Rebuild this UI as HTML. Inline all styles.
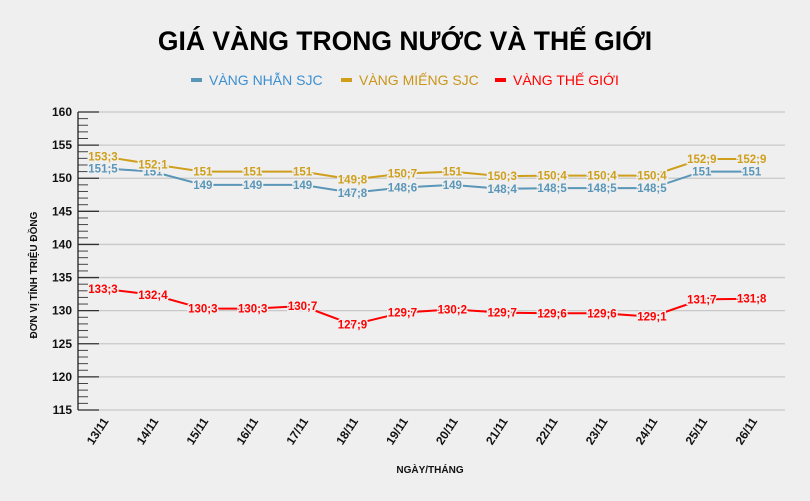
<!DOCTYPE html>
<html><head><meta charset="utf-8"><style>
html,body{margin:0;padding:0;background:#efefef;}
svg{display:block;font-family:"Liberation Sans",sans-serif;}
</style></head><body>
<svg width="810" height="501" viewBox="0 0 810 501" xmlns="http://www.w3.org/2000/svg">
<rect width="810" height="501" fill="#efefef"/>
<text x="405" y="50" text-anchor="middle" font-size="26.5" font-weight="bold" fill="#000">GIÁ VÀNG TRONG NƯỚC VÀ THẾ GIỚI</text>
<g font-size="14">
<rect x="191" y="78" width="11" height="4" fill="#5a96b8"/><text x="209" y="85" fill="#3d8fd0">VÀNG NHẪN SJC</text>
<rect x="341" y="78" width="11" height="4" fill="#cf9f1c"/><text x="359" y="85" fill="#c9951a">VÀNG MIẾNG SJC</text>
<rect x="495" y="78" width="11" height="4" fill="#ff0000"/><text x="513" y="85" fill="#ff0000">VÀNG THẾ GIỚI</text>
</g>
<g id="grid"></g>
<g id="series"></g>
<text transform="translate(37,275) rotate(-90)" text-anchor="middle" font-size="10" font-weight="bold" fill="#111">ĐƠN VỊ TÍNH TRIỆU ĐỒNG</text>
<text x="430" y="473" text-anchor="middle" font-size="10" font-weight="bold" fill="#111">NGÀY/THÁNG</text>
<script>
var NS="http://www.w3.org/2000/svg";
function Y(v){return 112+(160-v)*6.622;}
function X(i){return 103+49.9*i;}
function el(t,a,p,txt){var e=document.createElementNS(NS,t);for(var k in a)e.setAttribute(k,a[k]);if(txt!==undefined)e.textContent=txt;p.appendChild(e);return e;}
var g=document.getElementById('grid');
for(var v=115;v<=160;v++){
 var y=Y(v);
 if(v%5==0){
  el('line',{x1:78,x2:785,y1:y,y2:y,stroke:'#c8c8c8','stroke-width':1.3},g);
  el('line',{x1:78,x2:99,y1:y,y2:y,stroke:'#333','stroke-width':1.3},g);
  el('text',{x:72,y:y+4,'text-anchor':'end','font-size':12,'font-weight':'bold',fill:'#111'},g,v);
 } else el('line',{x1:78,x2:88,y1:y,y2:y,stroke:'#444','stroke-width':1},g);
}
el('line',{x1:78,x2:78,y1:Y(160),y2:Y(115),stroke:'#222','stroke-width':1.3},g);
var days=['13/11','14/11','15/11','16/11','17/11','18/11','19/11','20/11','21/11','22/11','23/11','24/11','25/11','26/11'];
days.forEach(function(d,i){el('text',{transform:'translate('+(X(i)+6)+',421) rotate(-57)','text-anchor':'end','font-size':12,'font-weight':'bold',fill:'#111'},g,d);});
var S=[
 ['#5a96b8',[151.5,151,149,149,149,147.8,148.6,149,148.4,148.5,148.5,148.5,151,151]],
 ['#cf9f1c',[153.3,152.1,151,151,151,149.8,150.7,151,150.3,150.4,150.4,150.4,152.9,152.9]],
 ['#ff0000',[133.3,132.4,130.3,130.3,130.7,127.9,129.7,130.2,129.7,129.6,129.6,129.1,131.7,131.8]]];
var sg=document.getElementById('series');
S.forEach(function(s){
 var pts=s[1].map(function(v,i){return X(i)+','+Y(v);}).join(' ');
 el('polyline',{points:pts,fill:'none',stroke:s[0],'stroke-width':2},sg);
});
S.forEach(function(s){
 s[1].forEach(function(v,i){
  var t=String(v).replace('.',';');
  el('text',{x:X(i),y:Y(v)+4,'text-anchor':'middle','font-size':11.5,'font-weight':'bold',fill:s[0],stroke:'#efefef','stroke-width':3,'paint-order':'stroke'},sg,t);
 });
});
</script>
</svg>
</body></html>
